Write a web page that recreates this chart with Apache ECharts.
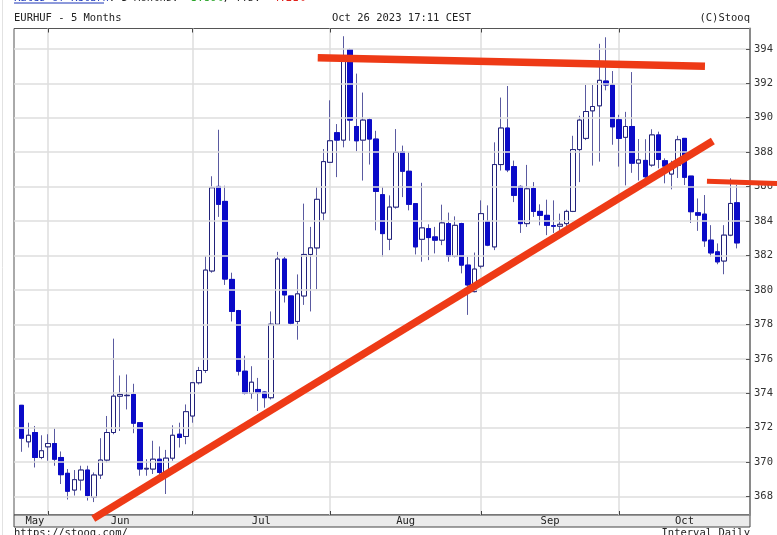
<!DOCTYPE html>
<html>
<head>
<meta charset="utf-8">
<title>EURHUF - 5 Months</title>
<script src="https://cdn.jsdelivr.net/npm/echarts@6/dist/echarts.min.js"></script>
<style>
  html, body { margin: 0; padding: 0; background: #fff; }
  #chart { width: 777px; height: 535px; }
</style>
</head>
<body>
<div id="chart"></div>
<script>
const monthNames = ['May', 'Jun', 'Jul', 'Aug', 'Sep', 'Oct']
// trading days of each month shown (2023)
const monthDays = [
  [26, 29, 30, 31],
  [1, 2, 5, 6, 7, 8, 9, 12, 13, 14, 15, 16, 19, 20, 21, 22, 23, 26, 27, 28, 29, 30],
  [3, 4, 5, 6, 7, 10, 11, 12, 13, 14, 17, 18, 19, 20, 21, 24, 25, 26, 27, 28, 31],
  [1, 2, 3, 4, 7, 8, 9, 10, 11, 14, 15, 16, 17, 18, 21, 22, 23, 24, 25, 28, 29, 30, 31],
  [1, 4, 5, 6, 7, 8, 11, 12, 13, 14, 15, 18, 19, 20, 21, 22, 25, 26, 27, 28, 29],
  [2, 3, 4, 5, 6, 9, 10, 11, 12, 13, 16, 17, 18, 19, 20, 23, 24, 25, 26]
]

const opens = [
  373.30, 371.18, 371.72, 370.27, 370.89, 371.08, 370.27, 369.35, 368.38, 368.96,
  369.54, 367.96, 369.25, 370.12, 371.72, 373.83, 373.86, 373.93, 372.29, 369.60,
  369.60, 370.17, 369.40, 370.23, 371.62, 371.49, 372.68, 374.61, 375.32, 381.10,
  386.01, 385.14, 380.61, 378.80, 375.28, 373.99, 374.22, 374.07, 373.74, 378.01,
  381.79, 379.65, 378.17, 379.65, 382.06, 382.44, 384.47, 387.41, 389.13, 388.70,
  393.96, 389.49, 388.70, 389.88, 388.76, 385.53, 382.94, 384.81, 388.03, 386.89,
  385.01, 382.94, 383.56, 383.08, 382.89, 383.85, 381.96, 383.85, 381.44, 379.90,
  381.38, 383.98, 382.50, 387.28, 389.40, 387.16, 386.01, 383.85, 385.89, 384.56,
  384.33, 383.73, 383.70, 383.85, 384.56, 388.15, 388.80, 390.40, 390.69, 392.13,
  391.90, 389.88, 388.86, 389.49, 387.36, 387.52, 387.25, 389.00, 387.50, 386.73,
  387.23, 388.80, 386.61, 384.48, 384.40, 382.89, 382.21, 381.68, 383.18, 385.06
]
const closes = [
  371.39, 371.56, 370.27, 370.66, 371.08, 370.17, 369.27, 368.31, 368.98, 369.54,
  368.06, 369.25, 370.12, 371.72, 373.83, 373.93, 373.88, 372.26, 369.60, 369.64,
  370.17, 369.40, 370.23, 371.56, 371.43, 372.93, 374.61, 375.32, 381.15, 385.93,
  384.97, 380.63, 378.75, 375.28, 373.99, 374.64, 374.03, 373.74, 378.01, 381.79,
  379.71, 378.07, 379.77, 382.06, 382.44, 385.26, 387.45, 388.66, 388.70, 393.52,
  389.86, 388.66, 389.86, 388.76, 385.72, 383.27, 384.81, 387.99, 386.89, 384.97,
  382.50, 383.60, 383.04, 382.89, 383.89, 381.96, 383.75, 381.44, 380.29, 381.21,
  384.43, 382.60, 387.28, 389.40, 386.97, 385.49, 383.85, 385.87, 384.56, 384.33,
  383.75, 383.70, 383.81, 384.56, 388.15, 389.86, 390.36, 390.65, 392.17, 391.90,
  389.47, 388.80, 389.49, 387.36, 387.55, 386.57, 389.00, 387.58, 387.19, 387.15,
  388.72, 386.54, 384.54, 384.34, 382.85, 382.15, 381.63, 383.18, 385.02, 382.73
]
const lows = [
  370.60, 370.85, 369.69, 370.17, 370.08, 369.79, 368.73, 367.83, 368.06, 368.35,
  367.77, 367.68, 369.02, 369.98, 371.62, 371.81, 373.06, 371.68, 369.21, 369.21,
  369.31, 369.31, 368.15, 370.08, 370.85, 371.04, 372.29, 374.51, 375.18, 381.00,
  384.24, 380.29, 378.17, 375.03, 373.93, 373.68, 372.97, 373.16, 373.64, 377.98,
  379.27, 377.98, 377.11, 379.13, 378.75, 380.04, 384.04, 387.41, 386.55, 388.28,
  388.66, 388.05, 386.35, 387.28, 383.46, 381.92, 382.31, 384.72, 385.39, 384.62,
  382.06, 381.64, 381.73, 382.12, 382.60, 381.64, 381.89, 380.96, 378.55, 379.86,
  381.25, 382.54, 382.31, 386.93, 386.84, 385.10, 383.31, 383.66, 384.24, 383.75,
  383.18, 383.31, 383.43, 383.50, 384.52, 386.26, 388.70, 387.22, 387.45, 391.59,
  388.43, 387.16, 386.07, 386.80, 386.35, 386.00, 387.15, 387.06, 386.19, 385.84,
  386.50, 386.09, 383.89, 383.43, 382.50, 381.92, 381.49, 380.91, 383.12, 382.41
]
const highs = [
  373.32, 372.29, 372.10, 371.56, 371.62, 371.95, 370.62, 369.60, 369.54, 369.79,
  369.79, 369.40, 371.39, 372.68, 377.17, 375.03, 375.09, 374.55, 372.30, 370.17,
  371.24, 370.91, 370.71, 372.14, 372.29, 373.35, 374.64, 375.53, 381.96, 386.60,
  389.30, 386.05, 381.00, 378.84, 376.18, 375.57, 374.89, 374.10, 378.75, 382.21,
  381.92, 379.65, 380.90, 385.01, 383.66, 385.97, 388.18, 391.01, 389.63, 394.73,
  394.02, 392.56, 391.46, 389.97, 389.24, 385.97, 385.49, 389.34, 388.38, 387.99,
  385.01, 386.22, 383.81, 383.66, 384.95, 384.49, 384.27, 383.90, 381.92, 382.17,
  385.20, 384.91, 388.57, 391.17, 391.84, 387.51, 386.07, 387.26, 386.26, 384.97,
  385.24, 385.20, 384.43, 384.66, 388.95, 390.11, 391.90, 391.90, 394.29, 394.67,
  392.71, 390.17, 390.34, 392.65, 388.76, 388.75, 389.33, 389.19, 387.64, 387.50,
  388.95, 388.80, 386.61, 385.31, 385.51, 383.76, 382.70, 383.76, 386.48, 386.09
]

const yTicks = [368, 370, 372, 374, 376, 378, 380, 382, 384, 386, 388, 390, 392, 394]

// hand-drawn trend lines, as [candle index, price]
const resistanceLine = [[45.1, 393.48], [104.1, 392.99]]
const supportLine = [[10.9, 366.72], [105.3, 388.65]]
const levelLine = [[104.4, 386.31], [115.1, 386.18]]

const xMin = -1.18
const xMax = 110.96
const yMin = 366.93
const yMax = 395.18

const mono = 'DejaVu Sans Mono'
const redColor = '#ee3a16'

let acc = 0
const monthStarts = monthDays.map(days => {
  const s = acc
  acc += days.length
  return s
})
const monthMids = monthStarts.map((s, k) => (s + (k < monthStarts.length - 1 ? monthStarts[k + 1] : xMax)) / 2)

const candles = opens.map((o, i) => [i, o, closes[i], lows[i], highs[i]])
// bodies only (no wick), drawn on top so wicks can have their own colour
const bodies = opens.map((o, i) => [i, o, closes[i], Math.min(o, closes[i]), Math.max(o, closes[i])])

const chart = echarts.init(document.getElementById('chart'))

function label(id, text, x, y, align) {
  return {
    id: id, type: 'text', x: x, y: y, z: 20,
    style: { text: text, align: align, verticalAlign: 'middle', fontFamily: mono, fontSize: 10.5, fill: '#222' }
  }
}

const texts = [
  { id: 'edge', type: 'line', shape: { x1: 2.5, y1: 0, x2: 2.5, y2: 535 }, style: { stroke: '#e2e2e2', lineWidth: 1 } },
  {
    id: 'rates', type: 'text', x: 14, y: -1.5,
    style: {
      text: '{a|Rates of Return}: 5 Months: {g|+3.86%}, YTD: {r|-4.21%}',
      verticalAlign: 'middle', fontFamily: mono, fontSize: 10.5, fill: '#222',
      rich: {
        a: { fill: '#1a35b8', fontFamily: mono, fontSize: 10.5 },
        g: { fill: '#2aa52a', fontFamily: mono, fontSize: 10.5 },
        r: { fill: '#e0201a', fontFamily: mono, fontSize: 10.5 }
      }
    }
  },
  { id: 'ratesLine', type: 'line', shape: { x1: 14, y1: 3, x2: 104, y2: 3 }, style: { stroke: '#1a35b8', lineWidth: 1 } },
  label('title', 'EURHUF - 5 Months', 14, 18.5, 'left'),
  label('date', 'Oct 26 2023 17:11 CEST', 401.5, 18.5, 'center'),
  label('copy', '(C)Stooq', 750, 18.5, 'right'),
  label('url', 'https://stooq.com/', 14, 533.5, 'left'),
  label('interval', 'Interval Daily', 750, 533.5, 'right')
]

const option = {
  animation: false,
  backgroundColor: '#fff',
  grid: [
    { left: 14, right: 27, top: 28.5, bottom: 20, show: true, borderColor: '#555', borderWidth: 1, backgroundColor: 'transparent' },
    { left: 14, right: 27, top: 515, height: 12, show: true, borderColor: '#444', borderWidth: 1, backgroundColor: '#ebebeb' }
  ],
  xAxis: [
    {
      type: 'value', gridIndex: 0, min: xMin, max: xMax, position: 'bottom',
      axisLine: { show: false, onZero: false },
      axisTick: { show: true, inside: true, length: 4, customValues: monthStarts.slice(1), lineStyle: { color: '#444' } },
      axisLabel: { show: false },
      splitLine: { show: true, lineStyle: { color: '#dedede', width: 1.5 } }
    },
    {
      type: 'value', gridIndex: 1, min: xMin, max: xMax, position: 'top', z: 5,
      axisLine: { show: false, onZero: false },
      axisTick: { show: false },
      splitLine: { show: false },
      axisLabel: {
        inside: true, margin: 1,
        customValues: monthMids,
        formatter: v => monthNames[monthMids.indexOf(v)] || '',
        color: '#222', fontFamily: mono, fontSize: 10.5
      }
    },
    {
      type: 'value', gridIndex: 0, min: xMin, max: xMax, position: 'top',
      axisLine: { show: false, onZero: false },
      axisTick: { show: true, inside: true, length: 4, customValues: monthStarts.slice(1), lineStyle: { color: '#444' } },
      axisLabel: { show: false },
      splitLine: { show: false }
    }
  ],
  yAxis: [
    {
      type: 'value', gridIndex: 0, min: yMin, max: yMax, position: 'right', z: 4,
      axisLine: { show: true, onZero: false, lineStyle: { color: '#8a8a8a', width: 2 } },
      axisTick: { show: true, inside: true, length: 4, customValues: yTicks, lineStyle: { color: '#555' } },
      axisLabel: { customValues: yTicks, margin: 4, color: '#333', fontFamily: mono, fontSize: 10.5 },
      splitLine: { show: true, lineStyle: { color: '#dedede', width: 1.5 } }
    },
    { type: 'value', gridIndex: 1, show: false, axisLine: { onZero: false } }
  ],
  series: [
    {
      type: 'candlestick',
      data: candles,
      barWidth: 5,
      silent: true,
      itemStyle: { color: '#fff', color0: '#0a0ac8', borderColor: '#5a5aa0', borderColor0: '#5a5aa0', borderWidth: 1 }
    },
    {
      type: 'candlestick',
      data: bodies,
      barWidth: 5,
      silent: true,
      z: 3,
      itemStyle: { color: '#fff', color0: '#0a0ac8', borderColor: '#22227a', borderColor0: '#0a0ac8', borderWidth: 1 }
    }
  ],
  graphic: texts
}

chart.setOption(option)

// trend lines go past the plot edges, so draw them through the grid's own scale without clipping
function trendGraphic(id, points, width) {
  const a = chart.convertToPixel({ gridIndex: 0 }, points[0])
  const b = chart.convertToPixel({ gridIndex: 0 }, points[1])
  return {
    id: id, type: 'line', z: 30, silent: true,
    shape: { x1: a[0], y1: a[1], x2: b[0], y2: b[1] },
    style: { stroke: redColor, lineWidth: width, lineCap: 'butt' }
  }
}

chart.setOption({
  graphic: texts.concat([
    trendGraphic('resistance', resistanceLine, 7.5),
    trendGraphic('support', supportLine, 7.5),
    trendGraphic('level', levelLine, 5)
  ])
})
</script>
</body>
</html>
